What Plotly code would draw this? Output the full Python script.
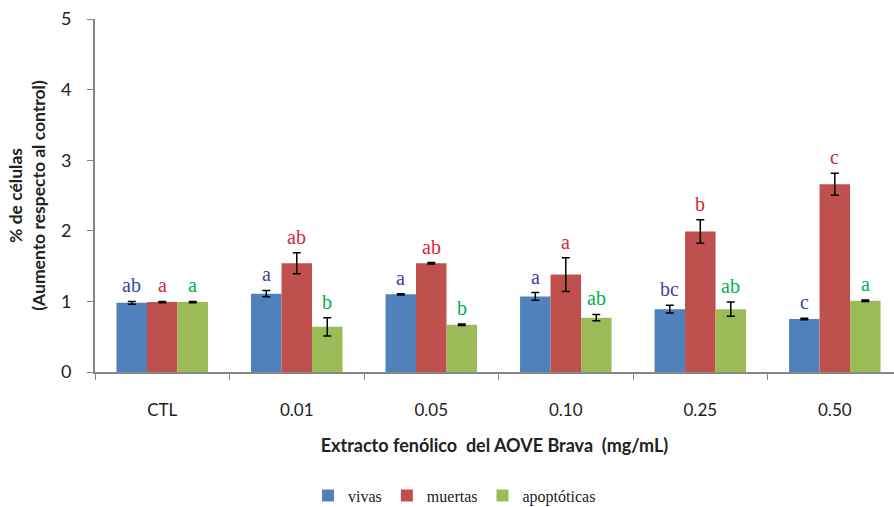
import plotly.graph_objects as go

categories = ["CTL", "0.01", "0.05", "0.10", "0.25", "0.50"]
vivas = [0.98, 1.11, 1.10, 1.07, 0.89, 0.75]
vivas_err = [0.02, 0.045, 0.01, 0.055, 0.055, 0.01]
muertas = [0.99, 1.54, 1.54, 1.38, 1.99, 2.66]
muertas_err = [0.01, 0.15, 0.01, 0.24, 0.165, 0.155]
apopt = [0.99, 0.64, 0.67, 0.77, 0.89, 1.01]
apopt_err = [0.01, 0.13, 0.01, 0.045, 0.10, 0.01]
vivas_letters = ["ab", "a", "a", "a", "bc", "c"]
muertas_letters = ["a", "ab", "ab", "a", "b", "c"]
apopt_letters = ["a", "b", "b", "ab", "ab", "a"]

series = [
    ("vivas", vivas, vivas_err, vivas_letters, "#4F81BD", "#3F3F9F"),
    ("muertas", muertas, muertas_err, muertas_letters, "#C0504D", "#D0283C"),
    ("apoptóticas", apopt, apopt_err, apopt_letters, "#9BBB59", "#00B050"),
]

fig = go.Figure()
bargap = 0.32
bw = (1 - bargap) / 3
annotations = []
for k, (name, vals, errs, letters, col, lcol) in enumerate(series):
    fig.add_trace(go.Bar(
        x=categories, y=vals, name=name, marker_color=col, marker_line_width=0,
        error_y=dict(type="data", array=errs, visible=True, color="black",
                     thickness=1.5, width=4),
    ))
    off = (k - 1) * bw
    for i, (v, e, t) in enumerate(zip(vals, errs, letters)):
        annotations.append(dict(
            x=i + off, y=v + e, xref="x", yref="y", text=t, showarrow=False,
            yanchor="bottom", yshift=3,
            font=dict(family="Liberation Serif", size=20, color=lcol),
        ))

fig.update_layout(
    width=894, height=507,
    margin=dict(l=95, r=0, t=19, b=135, autoexpand=False),
    paper_bgcolor="white", plot_bgcolor="white",
    barmode="group", bargap=bargap, bargroupgap=0,
    annotations=annotations,
    showlegend=True,
    legend=dict(orientation="h", x=0.45, xanchor="center", y=-0.35, yanchor="middle",
                font=dict(family="Liberation Serif", size=16, color="#222222"),
                traceorder="normal", itemwidth=30),
    font=dict(family="Lato", color="#222222"),
)
fig.update_xaxes(
    range=[-0.5, 5.44], showline=True, linecolor="#868686", linewidth=2,
    ticks="outside", tickson="boundaries", ticklen=6, tickcolor="#868686",
    tickfont=dict(family="Lato", size=17, color="#222222"),
    ticklabelstandoff=22, automargin=False,
    title=dict(text="<b>Extracto fenólico  del AOVE Brava  (mg/mL)</b>",
               font=dict(family="Lato", size=18, color="#222222"), standoff=20),
    showgrid=False, zeroline=False,
)
fig.update_yaxes(
    range=[0, 5], tickvals=[0, 1, 2, 3, 4, 5], showline=True, linecolor="#868686",
    linewidth=2, ticks="outside", ticklen=6, tickcolor="#868686",
    tickfont=dict(family="Lato", size=18, color="#222222"),
    ticklabelstandoff=12, automargin=False,
    title=dict(text="<b>% de células<br>(Aumento respecto al control)</b>",
               font=dict(family="Lato", size=17.5, color="#222222"), standoff=11),
    showgrid=False, zeroline=False,
)

fig.write_html("out.html")
